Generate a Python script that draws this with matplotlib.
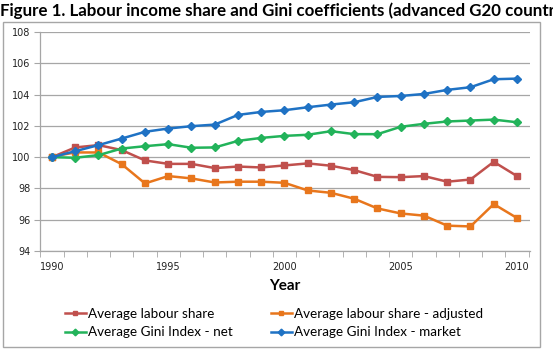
import matplotlib
matplotlib.use("Agg")
import matplotlib.pyplot as plt
from matplotlib.patches import Rectangle

years = list(range(1990, 2011))
labour_share = [100.0, 100.62, 100.77, 100.45, 99.79, 99.57, 99.57, 99.30, 99.40, 99.34,
                99.47, 99.60, 99.45, 99.17, 98.74, 98.72, 98.79, 98.43, 98.57, 99.70, 98.79]
labour_share_adj = [100.04, 100.30, 100.30, 99.55, 98.32, 98.79, 98.64, 98.38, 98.43, 98.43,
                    98.36, 97.87, 97.72, 97.34, 96.72, 96.40, 96.26, 95.62, 95.57, 97.00, 96.11]
gini_net = [100.0, 99.96, 100.13, 100.55, 100.70, 100.83, 100.60, 100.62, 101.04, 101.23,
            101.36, 101.43, 101.66, 101.47, 101.47, 101.94, 102.13, 102.28, 102.34, 102.40, 102.23]
gini_market = [100.0, 100.38, 100.77, 101.19, 101.62, 101.83, 101.98, 102.08, 102.70, 102.89,
               103.00, 103.19, 103.36, 103.51, 103.85, 103.91, 104.04, 104.30, 104.47, 104.98, 105.02]

y_ticks = [94, 96, 98, 100, 102, 104, 106, 108]
x_ticks = [1990, 1995, 2000, 2005, 2010]

W, H = 553, 351
fig = plt.figure(figsize=(W / 100, H / 100), dpi=100)

# outer chart frame
fig.patches.append(Rectangle((3 / W, 1 - 347 / H), 537 / W, 325 / H, transform=fig.transFigure,
                             fill=False, edgecolor="#A6A6A6", linewidth=1.0))

ax = fig.add_axes([40 / W, 1 - 251 / H, 490 / W, 219 / H])
ax.set_facecolor("white")

series = [
    (labour_share, "#C0504D", "s", "Average labour share"),
    (labour_share_adj, "#E8761C", "s", "Average labour share - adjusted"),
    (gini_net, "#22B35A", "D", "Average Gini Index - net"),
    (gini_market, "#1F72C4", "D", "Average Gini Index - market"),
]
handles = []
for vals, col, mk, lab in series:
    h, = ax.plot(years, vals, color=col, marker=mk, markersize=4.2 if mk == "s" else 4.0,
                 linewidth=1.8, label=lab, zorder=3)
    handles.append(h)

ax.set_xlim(1989.484, 2010.56)
ax.set_ylim(94, 108)
ax.set_yticks(y_ticks)
ax.set_xticks(x_ticks)
ax.set_xticks([y + 0.5 for y in range(1989, 2011)], minor=True)
ax.grid(axis="y", color="#A6A6A6", linewidth=0.9, zorder=0)
for s in ["top", "right"]:
    ax.spines[s].set_visible(False)
for s in ["left", "bottom"]:
    ax.spines[s].set_color("#A6A6A6")
    ax.spines[s].set_linewidth(0.9)
ax.tick_params(axis="y", length=4, color="#A6A6A6", labelsize=7, labelcolor="#222222", pad=3)
ax.tick_params(axis="x", which="major", length=0, labelsize=7, labelcolor="#222222", pad=8)
ax.tick_params(axis="x", which="minor", length=4, color="#A6A6A6", direction="out")
for lbl in ax.get_xticklabels() + ax.get_yticklabels():
    lbl.set_family("DejaVu Sans")

ax.set_xlabel("Year", fontsize=11, fontweight="bold", family="Lato", labelpad=5)

fig.text(0.0, 1 - 2 / H,
         "Figure 1. Labour income share and Gini coefficients (advanced G20 countries)",
         ha="left", va="top", fontsize=12.2, fontweight="bold", family="Lato")

# column-wise fill: row1 = labour shares, row2 = Gini indices
order = [handles[0], handles[2], handles[1], handles[3]]
leg = fig.legend(order, [h.get_label() for h in order], ncol=2, loc="center",
                 bbox_to_anchor=(274 / W, 1 - 323 / H), frameon=False,
                 prop={"family": "Lato", "size": 9.7}, handlelength=1.55, handletextpad=0.15,
                 columnspacing=2.85, labelspacing=0.5, markerscale=0.85)

fig.savefig("out.png", dpi=100)
